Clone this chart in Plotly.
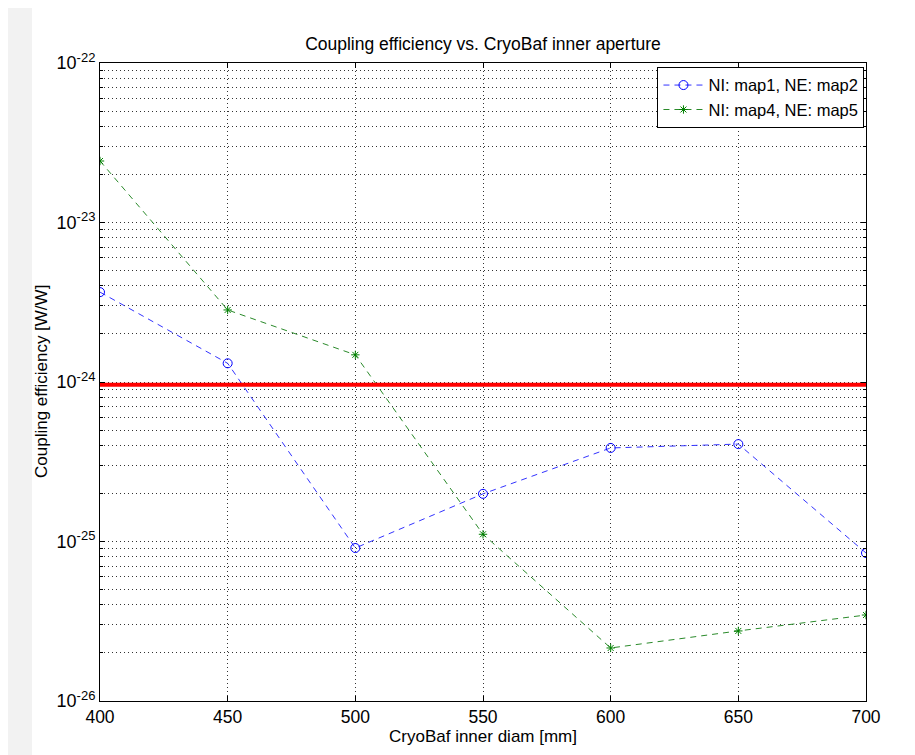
import plotly.graph_objects as go

diam = [400, 450, 500, 550, 600, 650, 700]
map1_map2 = [3.66e-24, 1.31e-24, 9.1e-26, 1.99e-25, 3.86e-25, 4.08e-25, 8.47e-26]
map4_map5 = [2.43e-23, 2.83e-24, 1.48e-24, 1.11e-25, 2.15e-26, 2.75e-26, 3.46e-26]
threshold_x = [400, 700]
threshold_y = [9.6e-25, 9.6e-25]
y_tick_vals = [1e-26, 1e-25, 1e-24, 1e-23, 1e-22]
y_tick_exp = ["-26", "-25", "-24", "-23", "-22"]

font = "Liberation Sans, Arial, Helvetica, sans-serif"
y_tick_text = ["<span style='font-size:18px'>10</span><sup><span style='font-size:13px'>%s</span></sup>" % e
               for e in y_tick_exp]

fig = go.Figure()
fig.add_trace(go.Scatter(
    x=diam, y=map1_map2, mode="lines+markers", name="NI: map1, NE: map2",
    line=dict(color="#3333ff", width=1, dash="6px,5px"),
    marker=dict(symbol="circle-open", size=9, color="#0000ff", line=dict(width=1)),
))
fig.add_trace(go.Scatter(
    x=diam, y=map4_map5, mode="lines+markers", name="NI: map4, NE: map5",
    line=dict(color="#2a8a2a", width=1, dash="6px,5px"),
    marker=dict(symbol="asterisk-open", size=7, color="#008000", line=dict(width=1, color="#008000")),
))
fig.add_trace(go.Scatter(
    x=threshold_x, y=threshold_y, mode="lines", showlegend=False,
    line=dict(color="#ff0000", width=4),
))

axis_common = dict(
    showline=True, linecolor="black", linewidth=1, mirror="allticks",
    ticks="inside", ticklen=5, tickcolor="black",
    showgrid=True, gridcolor="#333333", gridwidth=1, griddash="1px,3px",
    zeroline=False,
)

fig.update_xaxes(
    range=[400, 700], dtick=50, tick0=400,
    tickfont=dict(size=17.5, color="black", family=font),
    title=dict(text="CryoBaf inner diam [mm]", font=dict(size=17, color="black", family=font), standoff=0),
    **axis_common,
)
fig.update_yaxes(
    type="log", range=[-26, -22], tickmode="array", tickvals=y_tick_vals, ticktext=y_tick_text,
    tickfont=dict(size=18, color="black", family=font),
    minor=dict(ticks="inside", ticklen=3, tickcolor="black", showgrid=True,
               gridcolor="#333333", gridwidth=1, griddash="1px,3px", dtick="D1"),
    **axis_common,
)

W, H = 907, 747
L, R, T, B = 92, 49, 55, 54
PW, PH = W - L - R, H - T - B

fig.update_layout(
    width=W, height=H,
    margin=dict(l=L, r=R, t=T, b=B),
    paper_bgcolor="white", plot_bgcolor="white",
    font=dict(family=font, color="black"),
    title=dict(text="Coupling efficiency vs. CryoBaf inner aperture", x=0.5, xanchor="center",
               xref="paper", y=1 - 36 / H, yanchor="middle", font=dict(size=17.5, color="black", family=font)),
    legend=dict(x=0.998, y=0.994, xanchor="right", yanchor="top", bgcolor="white",
                bordercolor="black", borderwidth=1, font=dict(size=16.5, color="black", family=font),
                tracegroupgap=0, itemwidth=40),
    annotations=[dict(text="Coupling efficiency [W/W]", xref="paper", yref="paper",
                      x=(33 - L) / PW, y=0.5, xanchor="center", yanchor="middle", textangle=-90,
                      showarrow=False, font=dict(size=17, color="black", family=font))],
    shapes=[dict(type="rect", xref="paper", yref="paper", x0=-L / PW, x1=-(L - 24) / PW,
                 y0=-B / PH, y1=1 + T / PH, fillcolor="#f2f2f2", line=dict(width=0), layer="below")],
)

fig.write_html("out.html")
